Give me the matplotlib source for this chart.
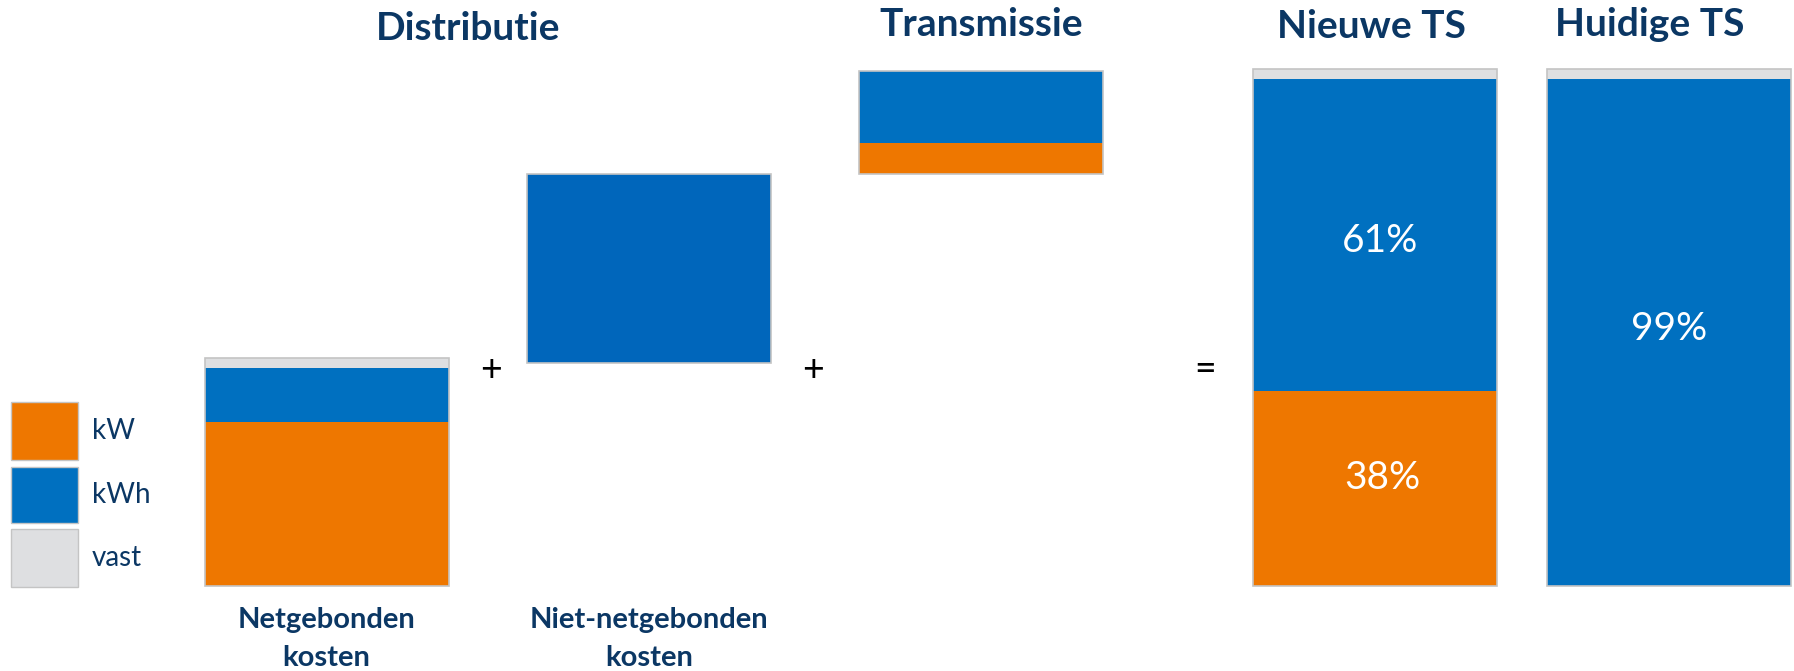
import matplotlib
matplotlib.use("Agg")
import matplotlib.pyplot as plt
from matplotlib.patches import Rectangle

plt.rcParams["font.family"] = ["Lato", "DejaVu Sans"]

# Cost components, in percent of the total tariff
components = ["Netgebonden\nkosten", "Niet-netgebonden\nkosten", "Transmissie", "Nieuwe TS", "Huidige TS"]
bases = [0, 43.5, 80.5, 0, 0]
kw_share = [32, 0, 6, 38, 0]
kwh_share = [10.5, 37, 14, 61, 99]
vast_share = [2, 0, 0, 2, 2]
pct_labels = {3: ("61%", "38%"), 4: ("99%", None)}

legend_labels = ["kW", "kWh", "vast"]

ORANGE = "#EE7700"
BLUE = "#0070C0"
BLUE_DARK = "#0066BB"
GREY = "#DEDFE1"
EDGE = "#C4C4C4"
NAVY = "#0B3764"

W, H = 1794, 671
BASE_PX = 586          # pixel row of the zero line
PX_PER_UNIT = 5.12

fig = plt.figure(figsize=(W / 100, H / 100), dpi=100)
ax = fig.add_axes([0, 0, 1, 1])
ax.set_xlim(0, W)
ax.set_ylim(-(H - BASE_PX) / PX_PER_UNIT, BASE_PX / PX_PER_UNIT)
ax.axis("off")

# overlay in pixel coordinates for annotations and legend
lay = fig.add_axes([0, 0, 1, 1])
lay.set_xlim(0, W)
lay.set_ylim(H, 0)
lay.axis("off")
lay.patch.set_alpha(0)

centers = [326.5, 649, 981, 1374.5, 1669]
bar_w = 244

for i, x in enumerate(centers):
    b = bases[i]
    kwh_color = BLUE_DARK if i == 1 else BLUE
    ax.bar(x, kw_share[i], bar_w, bottom=b, color=ORANGE, edgecolor="none")
    ax.bar(x, kwh_share[i], bar_w, bottom=b + kw_share[i], color=kwh_color, edgecolor="none")
    ax.bar(x, vast_share[i], bar_w, bottom=b + kw_share[i] + kwh_share[i], color=GREY, edgecolor="none")
    total = kw_share[i] + kwh_share[i] + vast_share[i]
    ax.add_patch(Rectangle((x - bar_w / 2, b), bar_w, total, fill=False,
                           edgecolor=EDGE, linewidth=1.2, zorder=3))

    if i in pct_labels:
        top_lbl, bot_lbl = pct_labels[i]
        nudge = -1.2 if kw_share[i] else 0.6
        ax.text(x + 6 if kw_share[i] else x, b + kw_share[i] + kwh_share[i] / 2 + nudge, top_lbl,
                color="white", fontsize=28, ha="center", va="center")
        if bot_lbl:
            ax.text(x + 8, b + kw_share[i] / 2 + 2, bot_lbl, color="white",
                    fontsize=28, ha="center", va="center")

# headings
lay.text(468, 28, "Distributie", color=NAVY, fontsize=28, fontweight="bold", ha="center", va="center")
lay.text(981, 25, components[2], color=NAVY, fontsize=28, fontweight="bold", ha="center", va="center")
lay.text(1371, 26, components[3], color=NAVY, fontsize=28, fontweight="bold", ha="center", va="center")
lay.text(1650, 24, components[4], color=NAVY, fontsize=28, fontweight="bold", ha="center", va="center")

# captions under the distribution bars
for i in (0, 1):
    lay.text(centers[i], 639, components[i], color=NAVY, fontsize=21, fontweight="bold",
             ha="center", va="center", linespacing=1.55)

# operators
for xo, sym in [(491, "+"), (813, "+"), (1205, "=")]:
    lay.text(xo, 370, sym, color="black", fontsize=27, ha="center", va="center")

# legend
swatches = [(402, 460, ORANGE), (467, 523, BLUE), (529, 587, GREY)]
for (y0, y1, c), lbl in zip(swatches, legend_labels):
    lay.add_patch(Rectangle((11, y0), 67, y1 - y0, facecolor=c, edgecolor=EDGE, linewidth=1))
    lay.text(92, (y0 + y1) / 2, lbl, color=NAVY, fontsize=20, ha="left", va="center")

fig.savefig("out.png", dpi=100)
